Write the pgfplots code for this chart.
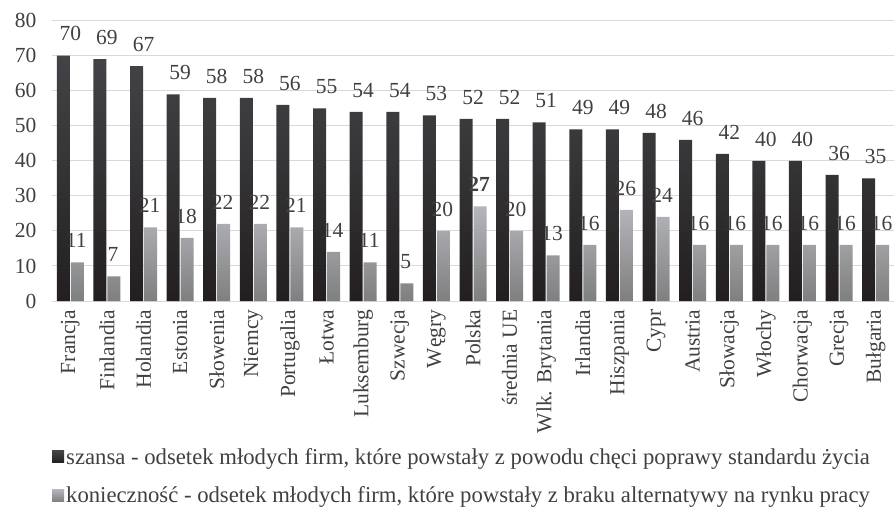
\documentclass[border=0pt]{standalone}
\usepackage{fontspec}
\setmainfont{Liberation Serif}
\usepackage{pgfplots}
\pgfplotsset{compat=1.18}
\definecolor{txt}{HTML}{404040}
\definecolor{gridc}{HTML}{D9D9D9}
\definecolor{darktop}{HTML}{434447}
\definecolor{darkbot}{HTML}{231F20}
\definecolor{lighttop}{HTML}{B5B6BA}
\definecolor{lightbot}{HTML}{7F7F81}
\newcommand{\f}{\fontsize{21.5}{25}\selectfont}
\newcommand{\fl}{\fontsize{22.7}{26}\selectfont}
\begin{document}
\begin{tikzpicture}
\useasboundingbox (-52pt,-231pt) rectangle (844pt,301pt);
\begin{axis}[
  at={(0,0)}, anchor=south west,
  scale only axis, width=842pt, height=280.3pt,
  ymin=0, ymax=80, xmin=-0.5, xmax=22.5,
  axis lines*=left,
  y axis line style={draw=none},
  x axis line style={draw=gridc, line width=1pt},
  ytick={0,10,...,80},
  ymajorgrids, grid style={draw=gridc, line width=1pt},
  major tick length=0pt,
  xtick={0,...,22},
  xticklabels={Francja,Finlandia,Holandia,Estonia,Słowenia,Niemcy,Portugalia,Łotwa,Luksemburg,Szwecja,Węgry,Polska,średnia UE,Wlk. Brytania,Irlandia,Hiszpania,Cypr,Austria,Słowacja,Włochy,Chorwacja,Grecja,Bułgaria},
  xticklabel style={rotate=90, anchor=east, font=\f, text=txt},
  xticklabel shift=5pt,
  yticklabel style={font=\f, text=txt},
  yticklabel shift=12pt,
  /pgf/number format/assume math mode=true,
  point meta=explicit symbolic,
  legend style={at={(0,0)}, anchor=north west, yshift=-145pt, xshift=0pt,
    draw=none, fill=none, font=\fl, text=txt, row sep=17pt, inner sep=0pt,
    cells={anchor=west}},
  legend cell align=left,
]
\addplot[ybar, bar width=13pt, bar shift=-7pt, draw=none, top color=darktop, bottom color=darkbot,
  nodes near coords,
  nodes near coords style={font=\f, text=txt, yshift=11pt},
  legend image code/.code={\fill[top color=darktop, bottom color=darkbot] (0pt,-6pt) rectangle (12pt,6pt);}]
coordinates {(0,70)[70] (1,69)[69] (2,67)[67] (3,59)[59] (4,58)[58] (5,58)[58] (6,56)[56] (7,55)[55] (8,54)[54] (9,54)[54] (10,53)[53] (11,52)[52] (12,52)[52] (13,51)[51] (14,49)[49] (15,49)[49] (16,48)[48] (17,46)[46] (18,42)[42] (19,40)[40] (20,40)[40] (21,36)[36] (22,35)[35]};
\addlegendentry{szansa - odsetek młodych firm, które powstały z powodu chęci poprawy standardu życia}
\addplot[ybar, bar width=13pt, bar shift=7pt, draw=none, top color=lighttop, bottom color=lightbot,
  nodes near coords,
  nodes near coords style={font=\f, text=txt, yshift=11pt, xshift=6pt},
  legend image code/.code={\fill[top color=lighttop, bottom color=lightbot] (0pt,-6pt) rectangle (12pt,6pt);}]
coordinates {(0,11)[11] (1,7)[7] (2,21)[21] (3,18)[18] (4,22)[22] (5,22)[22] (6,21)[21] (7,14)[14] (8,11)[11] (9,5)[5] (10,20)[20] (11,27)[\textbf{27}] (12,20)[20] (13,13)[13] (14,16)[16] (15,26)[26] (16,24)[24] (17,16)[16] (18,16)[16] (19,16)[16] (20,16)[16] (21,16)[16] (22,16)[16]};
\addlegendentry{konieczność - odsetek młodych firm, które powstały z braku alternatywy na rynku pracy}
\end{axis}
\end{tikzpicture}
\end{document}
